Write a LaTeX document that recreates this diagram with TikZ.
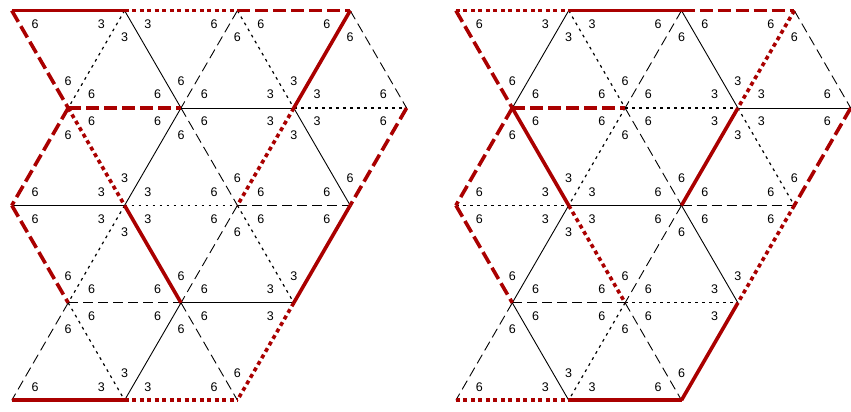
\documentclass[tikz,border=0pt]{standalone}
\usepackage{fontspec}
\setmainfont{Liberation Sans}
\usetikzlibrary{calc}
\definecolor{rd}{RGB}{170,0,0}
\tikzset{
 bsolid/.style={draw=black,line width=0.9pt},
 bdash/.style={bsolid,dash pattern=on 10pt off 5pt},
 bdot/.style={draw=black,line width=1.2pt,dash pattern=on 2.8pt off 4.2pt},
 rsolid/.style={draw=rd,line width=3.6pt},
 rdash/.style={rsolid,dash pattern=on 13pt off 5pt},
 rdot/.style={rsolid,dash pattern=on 4pt off 3.5pt},
 lab/.style={font=\fontsize{12.5}{14}\selectfont,inner sep=0pt,text=black}
}
\def\setvl#1#2{\expandafter\def\csname vl#1\endcsname{#2}}
\setvl{00}{6}\setvl{20}{3}\setvl{40}{6}\setvl{60}{6}
\setvl{11}{6}\setvl{31}{6}\setvl{51}{3}\setvl{71}{6}
\setvl{02}{6}\setvl{22}{3}\setvl{42}{6}\setvl{62}{6}
\setvl{13}{6}\setvl{33}{6}\setvl{53}{3}
\setvl{04}{6}\setvl{24}{3}\setvl{44}{6}
\begin{document}
\begin{tikzpicture}[x=1pt,y=-1pt]
\useasboundingbox (0,0) rectangle (851,412);
% lattice vertices
\foreach \p/\xo in {L/11.8,R/455.9}{
 \foreach \c/\r in {0/0,2/0,4/0,6/0,1/1,3/1,5/1,7/1,0/2,2/2,4/2,6/2,1/3,3/3,5/3,0/4,2/4,4/4}
  \coordinate (\p\c\r) at ({\xo+56.4*\c},{10.6+97.4*\r});
}
% black edges, left
\foreach \a/\b/\s in {L20/L11/bdot, L20/L31/bsolid, L40/L31/bdash, L40/L51/bdot, L60/L71/bdash,
 L31/L51/bsolid, L51/L71/bdot,
 L31/L22/bsolid, L31/L42/bdash, L51/L62/bsolid,
 L02/L22/bsolid, L22/L42/bdot, L42/L62/bdash,
 L22/L13/bdot, L42/L33/bdash, L42/L53/bdot,
 L13/L33/bdash, L33/L53/bsolid,
 L13/L04/bdash, L13/L24/bdot, L33/L24/bsolid, L33/L44/bdash}
 \draw[\s] (\a) -- (\b);
% black edges, right
\foreach \a/\b/\s in {R20/R11/bsolid, R20/R31/bdot, R40/R31/bdash, R40/R51/bsolid, R60/R71/bdash,
 R31/R51/bdot, R51/R71/bsolid,
 R31/R22/bdot, R31/R42/bdash, R51/R62/bdot,
 R02/R22/bdot, R22/R42/bsolid, R42/R62/bdash,
 R22/R13/bsolid, R42/R33/bdash, R42/R53/bsolid,
 R13/R33/bdash, R33/R53/bdot,
 R13/R04/bdash, R13/R24/bsolid, R33/R24/bdot, R33/R44/bdash}
 \draw[\s] (\a) -- (\b);
% red edges, left
\foreach \a/\b/\s in {L00/L20/rsolid, L20/L40/rdot, L40/L60/rdash,
 L00/L11/rdash, L60/L51/rsolid,
 L11/L31/rdash,
 L11/L02/rdash, L11/L22/rdot, L51/L42/rdot, L71/L62/rdash,
 L02/L13/rdash, L22/L33/rsolid, L62/L53/rsolid,
 L53/L44/rdot,
 L04/L24/rsolid, L24/L44/rdot}
 \draw[\s] (\a) -- (\b);
% red edges, right
\foreach \a/\b/\s in {R00/R20/rdot, R20/R40/rsolid, R40/R60/rdash,
 R00/R11/rdash, R60/R51/rdot,
 R11/R31/rdash,
 R11/R02/rdash, R11/R22/rsolid, R51/R42/rsolid, R71/R62/rdash,
 R02/R13/rdash, R22/R33/rdot, R62/R53/rdot,
 R53/R44/rsolid,
 R04/R24/rdot, R24/R44/rsolid}
 \draw[\s] (\a) -- (\b);
% corner labels
\foreach \p in {L,R}{
 \foreach \A/\B/\C in {00/20/11, 20/11/31, 20/40/31, 40/31/51, 40/60/51, 60/51/71,
  11/31/22, 11/02/22, 31/22/42, 31/51/42, 51/42/62, 51/71/62,
  02/22/13, 22/13/33, 22/42/33, 42/33/53, 42/62/53,
  13/04/24, 13/33/24, 33/24/44, 33/53/44}{
  \node[lab] (\p\A\B\C-a) at ($0.724*(\p\A)+0.138*(\p\B)+0.138*(\p\C)$) {\csname vl\A\endcsname};
  \node[lab] (\p\A\B\C-b) at ($0.138*(\p\A)+0.724*(\p\B)+0.138*(\p\C)$) {\csname vl\B\endcsname};
  \node[lab] (\p\A\B\C-c) at ($0.138*(\p\A)+0.138*(\p\B)+0.724*(\p\C)$) {\csname vl\C\endcsname};
 }
}
\end{tikzpicture}
\end{document}
